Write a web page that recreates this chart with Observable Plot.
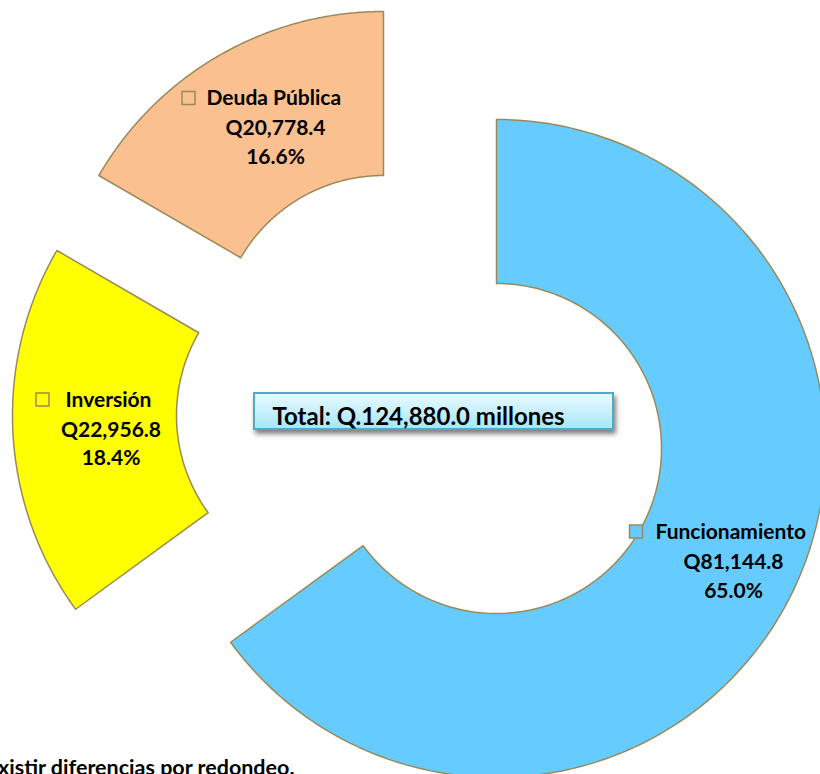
<!DOCTYPE html>
<html><head><meta charset="utf-8">
<script src="https://cdn.jsdelivr.net/npm/d3@7"></script>
<script src="https://cdn.jsdelivr.net/npm/@observablehq/plot@0.6"></script>
<style>html,body{margin:0;padding:0;background:#fff} svg{display:block}</style>
</head><body><div id="chart"></div>
<script>
// ---- data ----
const categories = ["Funcionamiento", "Inversión", "Deuda Pública"];
const values = [81144.8, 22956.8, 20778.4];
const colors = ["#66CCFF", "#FFFF00", "#FAC090"];
const totalLabel = "Total: Q.124,880.0 millones";
const note = "Puede existir diferencias por redondeo.";

// ---- layout ----
const W = 820, H = 774;
const rInner = 165, rOuter = 329;
const centers = [[496, 448], [341, 415], [383, 340]];            // exploded slice centres
const labelPos = [                                                // square, name start, value/percent centre
  {sq: [636, 531.5], np: [655, 532], mid: [733, 562], gap: 28.5},
  {sq: [42.5, 399.5], np: [65, 400], mid: [110.5, 430], gap: 27.5},
  {sq: [188.5, 98], np: [206, 98], mid: [275, 128], gap: 29}
];
const edge = "#9A8A5A";

const total = d3.sum(values);
const arcs = d3.pie().sort(null).value(d => d)(values);
const fmtVal = v => "Q" + d3.format(",.1f")(v);
const fmtPct = v => d3.format(".1f")(v / total * 100) + "%";

const pts = [];
arcs.forEach((a, i) => {
  const [cx, cy] = centers[i];
  const n = 160;
  for (let k = 0; k <= n; k++) {
    const t = a.startAngle + (a.endAngle - a.startAngle) * k / n;
    pts.push({name: categories[i], x: cx + rOuter * Math.sin(t), y: cy - rOuter * Math.cos(t)});
  }
  for (let k = n; k >= 0; k--) {
    const t = a.startAngle + (a.endAngle - a.startAngle) * k / n;
    pts.push({name: categories[i], x: cx + rInner * Math.sin(t), y: cy - rInner * Math.cos(t)});
  }
});

const labels = categories.map((c, i) => ({
  name: c, value: fmtVal(values[i]), pct: fmtPct(values[i]), ...labelPos[i]
}));

const font = {fontWeight: "bold", fontSize: 21, fill: "#000"};

const chart = Plot.plot({
  width: W, height: H, margin: 0,
  style: {fontFamily: "Lato, 'Open Sans', sans-serif", background: "#fff"},
  x: {domain: [0, W], range: [0, W], axis: null},
  y: {domain: [0, H], range: [0, H], axis: null},
  color: {domain: categories, range: colors},
  marks: [
    Plot.line(pts, {x: "x", y: "y", z: "name", fill: "name", stroke: edge, strokeWidth: 1.5, curve: "linear-closed"}),
    Plot.rect([0], {x1: 254, x2: 613, y1: 393, y2: 429, fill: "url(#totGrad)", stroke: "#4BACC6", strokeWidth: 2}),
    Plot.text([totalLabel], {x: 272, y: 417, text: d => d, textAnchor: "start", fontWeight: "bold", fontSize: 24, fill: "#000"}),
    Plot.rect(labels, {x1: d => d.sq[0] - 6.5, x2: d => d.sq[0] + 6.5, y1: d => d.sq[1] - 6.5, y2: d => d.sq[1] + 6.5, fill: "name", stroke: edge, strokeWidth: 1.5}),
    Plot.text(labels, {x: d => d.np[0], y: d => d.np[1], text: "name", textAnchor: "start", ...font}),
    Plot.text(labels, {x: d => d.mid[0], y: d => d.mid[1], text: "value", textAnchor: "middle", ...font}),
    Plot.text(labels, {x: d => d.mid[0], y: d => d.mid[1] + d.gap, text: "pct", textAnchor: "middle", ...font}),
    Plot.text([note], {x: 294, y: 768, text: d => d, textAnchor: "end", fontWeight: "bold", fontSize: 21.5, fill: "#000"})
  ]
});

const svg = d3.select(chart);
const defs = svg.insert("defs", ":first-child");
const g = defs.append("linearGradient").attr("id", "totGrad").attr("x1", 0).attr("y1", 0).attr("x2", 0).attr("y2", 1);
g.append("stop").attr("offset", "0%").attr("stop-color", "#EAFAFF");
g.append("stop").attr("offset", "100%").attr("stop-color", "#A6E6FB");
const f = defs.append("filter").attr("id", "totShadow").attr("x", "-10%").attr("y", "-50%").attr("width", "130%").attr("height", "220%");
f.append("feDropShadow").attr("dx", 2).attr("dy", 4).attr("stdDeviation", 2.5).attr("flood-color", "#000").attr("flood-opacity", 0.5);
svg.selectAll("g, rect").filter(function () { return this.getAttribute("fill") === "url(#totGrad)"; })
  .attr("filter", "url(#totShadow)");

document.getElementById("chart").appendChild(chart);
</script>
</body></html>
